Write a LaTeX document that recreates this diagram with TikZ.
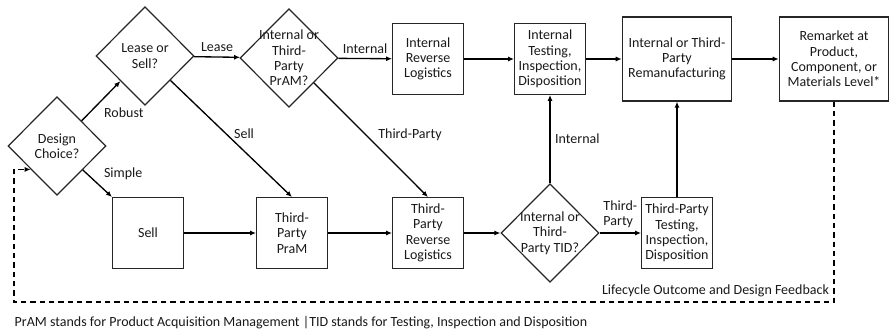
\documentclass[tikz,border=0pt]{standalone}
\usepackage{fontspec}
\setmainfont{Carlito}
\usetikzlibrary{shapes.geometric, arrows.meta, calc}

\begin{document}
\begin{tikzpicture}[
    x=0.75pt, y=-0.75pt,
    decision/.style = {diamond, draw=black!85, line width=0.9pt, align=center, inner sep=-9pt, minimum width=73.5pt, minimum height=74pt, font=\fontsize{10.5}{11.5}\selectfont, text=black!90},
    block/.style = {rectangle, draw=black!85, line width=0.9pt, align=center, minimum width=53pt, minimum height=53pt, inner sep=2pt, font=\fontsize{10.5}{11.5}\selectfont, text=black!90},
    wideblock/.style = {block, minimum width=82pt, minimum height=63pt},
    flow/.style = {draw=black, -{Latex[length=4.5pt, width=3.8pt]}, line width=1pt},
    feedback/.style = {flow, dash pattern=on 4pt off 3pt},
    lbl/.style = {font=\fontsize{10.5}{11.5}\selectfont, text=black!90}
]
\useasboundingbox (0, 0) rectangle (889, 335);

% Decisions
\node (design) [decision] at (57, 146) {Design\\Choice?};
\node (lease) [decision] at (145, 56) {Lease or\\Sell?};
\node (pram) [decision] at (289, 58) {Internal or\\Third-\\Party\\PrAM?};
\node (tid) [decision] at (550, 233) {Internal or\\Third-\\Party TID?};

% Processes, top row
\node (irl) [block] at (428, 59) {Internal\\Reverse\\Logistics};
\node (itid) [block] at (550, 59) {Internal\\Testing,\\Inspection,\\Disposition};
\node (reman) [wideblock] at (677, 59) {Internal or Third-\\Party\\Remanufacturing};
\node (remarket) [wideblock] at (834, 59) {Remarket at\\Product,\\Component, or\\Materials Level*};

% Processes, bottom row
\node (sell) [block] at (148, 233) {Sell};
\node (tpram) [block] at (292, 233) {Third-\\Party\\PraM};
\node (tprl) [block] at (428, 233) {Third-\\Party\\Reverse\\Logistics};
\node (tptid) [block] at (677, 233) {Third-Party\\Testing,\\Inspection,\\Disposition};

% Flows
\draw [flow] (design) -- node[lbl, pos=0.45, below right] {Robust} (lease);
\draw [flow] (design) -- node[lbl, pos=0.55, above right] {Simple} (sell.north west);
\draw [flow] (lease) -- node[lbl, above] {Lease} (pram);
\draw [flow] (lease) -- node[lbl, pos=0.46, right=2pt] {Sell} (tpram.north);
\draw [flow] (pram) -- node[lbl, above] {Internal} (irl);
\draw [flow] (pram) -- node[lbl, pos=0.45, right=6pt] {Third-Party} (tprl.north);
\draw [flow] (irl) -- (itid);
\draw [flow] (itid) -- (reman);
\draw [flow] (reman) -- (remarket);
\draw [flow] (sell) -- (tpram);
\draw [flow] (tpram) -- (tprl);
\draw [flow] (tprl) -- (tid);
\draw [flow] (tid) -- node[lbl, right] {Internal} (itid);
\draw [flow] (tid) -- node[lbl, above, align=left] {Third-\\Party} (tptid);
\draw [flow] (tptid) -- (reman);

% Feedback loop
\coordinate (fbcorner) at (14, 302);
\coordinate (fbin) at ($(design.west)!0.47!(design.south)$);
\draw [feedback] (remarket.south) |- node[lbl, above left] {Lifecycle Outcome and Design Feedback} (fbcorner) |- (fbin);

% Footnote
\node (note) [lbl, anchor=west] at (10, 323) {PrAM stands for Product Acquisition Management |TID stands for Testing, Inspection and Disposition};

\end{tikzpicture}
\end{document}
